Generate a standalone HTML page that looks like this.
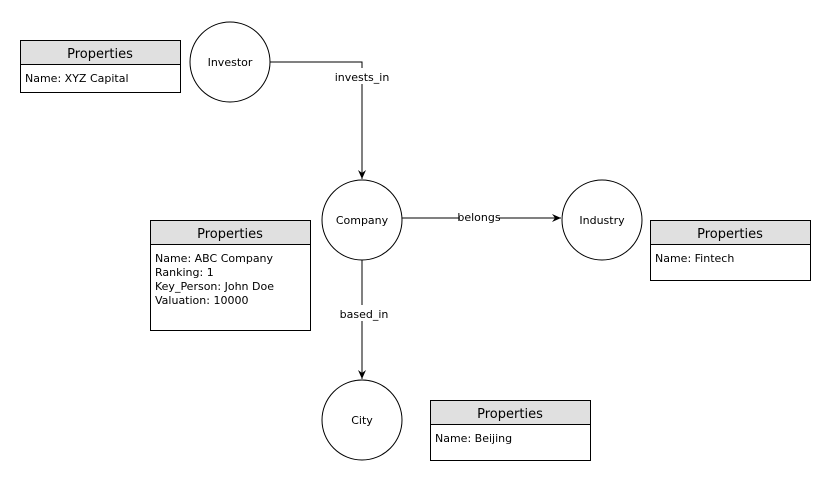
<!DOCTYPE html>
<html><head><meta charset="utf-8"><style>
body{margin:0;background:#fff;}
svg text{font-family:"DejaVu Sans","Liberation Sans",sans-serif;font-size:11px;fill:#000;}
</style></head><body>
<svg width="829" height="483" xmlns="http://www.w3.org/2000/svg">
<defs><marker id="a" markerWidth="10" markerHeight="10" refX="9" refY="5" orient="auto" markerUnits="userSpaceOnUse"><path d="M0,1 L9,5 L0,9 L3,5 Z" fill="#000"/></marker></defs>
<g fill="none" stroke="#000" stroke-width="1">
<path d="M270,62 H362 V179" marker-end="url(#a)"/>
<path d="M402,218 H561" marker-end="url(#a)"/>
<path d="M362,260 V379" marker-end="url(#a)"/>
<circle cx="230" cy="62" r="40" fill="#fff"/>
<circle cx="362" cy="220" r="40" fill="#fff"/>
<circle cx="602" cy="220" r="40" fill="#fff"/>
<circle cx="362" cy="420" r="40" fill="#fff"/>
</g>
<rect x="337" y="68" width="50" height="16" fill="#fff"/>
<rect x="460" y="209" width="38" height="16" fill="#fff"/>
<rect x="340" y="305" width="46" height="16" fill="#fff"/>
<text x="362" y="81" text-anchor="middle">invests_in</text>
<text x="479" y="221" text-anchor="middle">belongs</text>
<text x="364" y="318" text-anchor="middle">based_in</text>
<text x="230" y="66" text-anchor="middle">Investor</text>
<text x="362" y="224" text-anchor="middle">Company</text>
<text x="602" y="224" text-anchor="middle">Industry</text>
<text x="362" y="424" text-anchor="middle">City</text>
<g stroke="#000" stroke-width="1">
<rect x="20.5" y="40.5" width="160" height="52" fill="#fff"/><rect x="20.5" y="40.5" width="160" height="24" fill="#e0e0e0"/>
<rect x="150.5" y="220.5" width="160" height="110" fill="#fff"/><rect x="150.5" y="220.5" width="160" height="24" fill="#e0e0e0"/>
<rect x="650.5" y="220.5" width="160" height="60" fill="#fff"/><rect x="650.5" y="220.5" width="160" height="24" fill="#e0e0e0"/>
<rect x="430.5" y="400.5" width="160" height="60" fill="#fff"/><rect x="430.5" y="400.5" width="160" height="24" fill="#e0e0e0"/>
</g>
<text x="100" y="58" text-anchor="middle" style="font-size:13px">Properties</text>
<text x="230" y="238" text-anchor="middle" style="font-size:13px">Properties</text>
<text x="730" y="238" text-anchor="middle" style="font-size:13px">Properties</text>
<text x="510" y="418" text-anchor="middle" style="font-size:13px">Properties</text>
<text x="25" y="82">Name: XYZ Capital</text>
<text x="155" y="262">Name: ABC Company</text>
<text x="155" y="276">Ranking: 1</text>
<text x="155" y="290">Key_Person: John Doe</text>
<text x="155" y="304">Valuation: 10000</text>
<text x="655" y="262">Name: Fintech</text>
<text x="435" y="442">Name: Beijing</text>
</svg>
</body></html>
